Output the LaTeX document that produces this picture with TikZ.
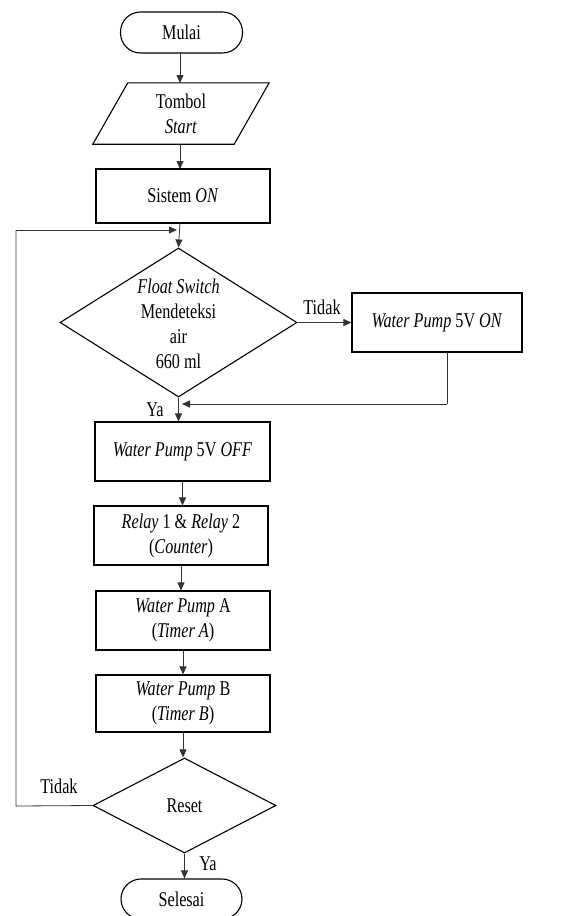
\documentclass[tikz,border=0pt]{standalone}
\usepackage{fontspec}
\setmainfont{Liberation Serif}[FakeStretch=0.77]
\usetikzlibrary{shapes.geometric,arrows.meta,calc}
\tikzset{
  box/.style={draw=black,line width=1.1pt,rectangle,minimum width=174pt,minimum height=59pt,align=center,inner sep=0pt},
  term/.style={draw=black,line width=1.1pt,rectangle,rounded corners=20pt,minimum width=122pt,minimum height=41pt,inner sep=0pt},
  dec/.style={draw=black,line width=1.1pt,diamond,inner sep=0pt},
  lbl/.style={inner sep=0pt,align=center},
  conn/.style={draw=black!80,line width=0.8pt,-{Triangle[length=8pt,width=7pt]}},
  line/.style={draw=black!80,line width=0.8pt}
}
\begin{document}
\begin{tikzpicture}[x=1pt,y=-1pt,font=\fontsize{21}{25}\selectfont]
\useasboundingbox (0,0) rectangle (570,916);
\fill[white] (0,0) rectangle (570,916);
% nodes
\node[term] (mulai) at (181.5,32.5) {Mulai};
\node[lbl,minimum width=141pt,minimum height=61pt] (tombol) at (181,113.5) {Tombol\\\textit{Start}};
\draw[line width=1.1pt] ($(tombol.north west)+(17.5,0)$) -- ($(tombol.north east)+(17.5,0)$)
  -- ($(tombol.south east)+(-17.5,0)$) -- ($(tombol.south west)+(-17.5,0)$) -- cycle;
\node[box,minimum height=54pt] (sistem) at (183,196) {Sistem \textit{ON}};
\node[dec,minimum width=237pt,minimum height=149pt] (float) at (178.5,322.5) {};
\node[lbl] (floattxt) at (178.5,323.5) {\textit{Float Switch}\\Mendeteksi\\air\\660 ml};
\node[box,minimum width=170pt] (wpon) at (437,322.5) {\textit{Water Pump} 5V \textit{ON}};
\node[box,minimum width=175pt] (wpoff) at (182.5,451.5) {\textit{Water Pump} 5V \textit{OFF}};
\node[box] (relay) at (181,535.5) {\textit{Relay} 1 \& \textit{Relay} 2\\(\textit{Counter})};
\node[box] (wpa) at (183,620.5) {\textit{Water Pump} A\\(\textit{Timer A})};
\node[box,minimum height=57pt] (wpb) at (183,703.5) {\textit{Water Pump} B\\(\textit{Timer B})};
\node[dec,minimum width=183pt,minimum height=95pt] (reset) at (184.5,805.5) {};
\node[lbl] (resettxt) at (184.5,806) {Reset};
\node[term,minimum width=121pt,minimum height=40pt] (selesai) at (181.5,899) {Selesai};
% labels
\node[lbl] (tidak1) at (322,307) {Tidak};
\node[lbl] (ya1) at (155,410) {Ya};
\node[lbl] (tidak2) at (59,786) {Tidak};
\node[lbl] (ya2) at (208,864) {Ya};
% coordinates
\coordinate (join1) at (180,230);
\coordinate (join2) at (180,404);
\coordinate (join2tip) at (182,404);
\coordinate (join1tip) at (177,230);
\coordinate (wpret) at (447,352);
\coordinate (loopb) at (16,806);
\coordinate (loopt) at (16,230);
\coordinate (mulaib) at (180,53);
\coordinate (tombolt) at (180,83);
\coordinate (tombolb) at (180,144);
\coordinate (sistemt) at (180,169);
\coordinate (sistemb) at (180,223);
% connectors
\draw[conn] (mulaib) -- (tombolt);
\draw[conn] (tombolb) -- (sistemt);
\draw[conn] (sistemb) -- (float.north);
\draw[conn] (float.east) -- (wpon.west);
\draw[line] (wpret) -- (wpret |- join2);
\draw[conn] (wpret |- join2) -- (join2tip);
\draw[conn] (float.south) -- (float.south |- wpoff.north);
\draw[conn] (wpoff.south) -- (wpoff.south |- relay.north);
\draw[conn] (relay.south) -- (relay.south |- wpa.north);
\draw[conn] (wpa.south) -- (wpa.south |- wpb.north);
\draw[conn] (wpb.south) -- (wpb.south |- reset.north);
\draw[conn] (reset.south) -- (reset.south |- selesai.north);
\draw[line] (reset.west) -- (loopb) -- (loopt);
\draw[conn] (loopt) -- (join1tip);
\end{tikzpicture}
\end{document}
